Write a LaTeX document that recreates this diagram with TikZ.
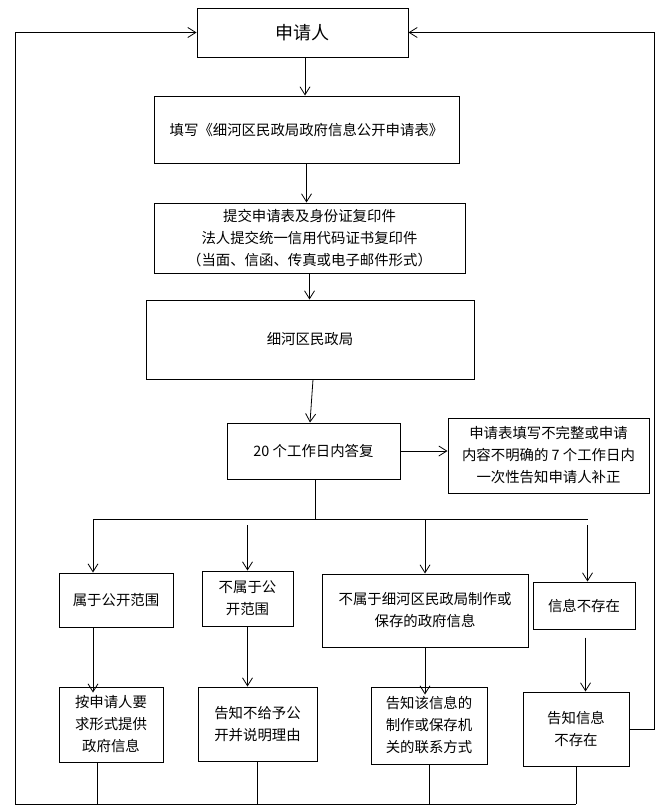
\documentclass[tikz,border=0pt]{standalone}
\usepackage{fontspec}
\setmainfont{Noto Sans CJK SC}
\usetikzlibrary{arrows.meta, calc}
\tikzset{
    box/.style = {draw, line width = 1pt, inner sep = 0pt, align = center, font = \fontsize{14.4pt}{22pt}\selectfont},
    arr/.style = {-{Straight Barb[length = 8pt, width = 10pt]}, line width = 0.8pt},
    ln/.style = {line width = 0.8pt}
}
\begin{document}
\begin{tikzpicture}[x = 1pt, y = -1pt]
    \useasboundingbox (0, 0) rectangle (663, 811);
    \node [box, minimum width = 211pt, minimum height = 49pt, font = \fontsize{18pt}{22pt}\selectfont] (app) at (302.5, 32.5) {申请人};
    \node [box, minimum width = 305pt, minimum height = 67pt] (form) at (306.5, 129.5) {填写《细河区民政局政府信息公开申请表》};
    \node [box, minimum width = 311pt, minimum height = 70pt] (submit) at (309.5, 238) {提交申请表及身份证复印件\\法人提交统一信用代码证书复印件\\（当面、信函、传真或电子邮件形式）};
    \node [box, minimum width = 328pt, minimum height = 79pt] (bureau) at (310, 339.5) {细河区民政局};
    \node [box, minimum width = 173pt, minimum height = 56pt] (reply) at (313.5, 451) {20 个工作日内答复};
    \node [box, minimum width = 201pt, minimum height = 75pt] (supp) at (548.5, 455.5) {申请表填写不完整或申请\\内容不明确的 7 个工作日内\\一次性告知申请人补正};
    \node [box, minimum width = 114pt, minimum height = 54pt] (t1) at (116, 600) {属于公开范围};
    \node [box, minimum width = 91pt, minimum height = 55pt] (t2) at (247.5, 598.5) {不属于公\\开范围};
    \node [box, minimum width = 206pt, minimum height = 73pt] (t3) at (425, 610.5) {不属于细河区民政局制作或\\保存的政府信息};
    \node [box, minimum width = 102pt, minimum height = 47pt] (t4) at (584, 605.5) {信息不存在};
    \node [box, minimum width = 104pt, minimum height = 75pt] (r1) at (111, 724.5) {按申请人要\\求形式提供\\政府信息};
    \node [box, minimum width = 119pt, minimum height = 74pt] (r2) at (257.5, 724) {告知不给予公\\开并说明理由};
    \node [box, minimum width = 116pt, minimum height = 77pt] (r3) at (429, 725.5) {告知该信息的\\制作或保存机\\关的联系方式};
    \node [box, minimum width = 106pt, minimum height = 74pt] (r4) at (576, 729) {告知信息\\不存在};
    \coordinate (busL) at (93, 519);
    \coordinate (busR) at (587.5, 519);
    \coordinate (botL) at (15, 804);
    \coordinate (topR) at (654, 0);
    \draw [arr] ([xshift = 2.5pt]app.south) -- ([xshift = 2.5pt]app.south |- form.north);
    \draw [arr] (form.south) -- (form.south |- submit.north);
    \draw [arr] (submit.south) -- (submit.south |- bureau.north);
    \draw [arr] ([xshift = 3pt]bureau.south) -- (bureau.south |- reply.north);
    \draw [arr] (reply.east) -- (reply.east -| supp.west);
    \draw [ln] ([xshift = 1.5pt]reply.south) -- ([xshift = 1.5pt]reply.south |- busL);
    \draw [ln] (busL) -- (busR);
    \draw [arr] (busL) -- (busL |- t1.north);
    \draw [arr] ($(busL -| t2.north) + (0, 6)$) -- (t2.north);
    \draw [arr] (busL -| t3.north) -- (t3.north);
    \draw [arr] ($(busR) + (0, 6)$) -- (busR |- t4.north);
    \draw [arr] (t1.south -| busL) -- ($(busL |- r1.north) + (0, 6)$);
    \draw [arr] (t2.south) -- (t2.south |- r2.north);
    \draw [arr] (t3.south) -- ($(t3.south |- r3.north) + (0, 8)$);
    \draw [arr] ($(t4.south) + (1.5, 8)$) -- ($(t4.south |- r4.north) + (1.5, 0)$);
    \draw [ln] ([xshift = -14pt]r1.south) -- ([xshift = -14pt]r1.south |- botL);
    \draw [ln] (r2.south) -- (r2.south |- botL);
    \draw [ln] (r3.south) -- (r3.south |- botL);
    \draw [ln] (r4.south) -- (r4.south |- botL);
    \draw [ln] (botL) -- (botL -| r4.south);
    \draw [arr] (botL) -- (botL |- app.west) -- (app.west);
    \draw [arr] (r4.east) -- (r4.east -| topR) -- (topR |- app.east) -- (app.east);
\end{tikzpicture}
\end{document}
